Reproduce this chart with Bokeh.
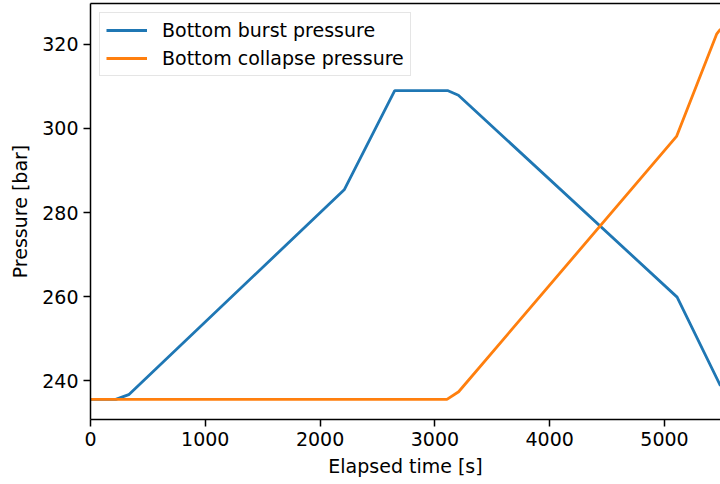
from bokeh.plotting import figure
from bokeh.models import Range1d, FixedTicker, LinearAxis, Legend, LegendItem
from bokeh.embed import file_html
from bokeh.resources import INLINE

# ---- data ----
time_burst = [0, 220, 333, 2210, 2650, 3110, 3205, 5110, 5488]
burst_pressure = [235.6, 235.6, 236.7, 285.4, 309.0, 309.0, 307.9, 259.9, 238.8]

time_collapse = [0, 3105, 3207, 5105, 5454, 5488]
collapse_pressure = [235.6, 235.6, 237.4, 298.1, 322.4, 323.6]

x_ticks = [0, 1000, 2000, 3000, 4000, 5000]
y_ticks = [240, 260, 280, 300, 320]

FONT = "DejaVu Sans"
FS = "19px"

p = figure(width=720, height=479, output_backend="svg", toolbar_location=None,
           x_range=Range1d(0, 5488), y_range=Range1d(230.8, 329.7),
           min_border_left=90, min_border_right=0, min_border_top=3, min_border_bottom=60)
p.outline_line_color = None
p.xgrid.visible = False
p.ygrid.visible = False
p.background_fill_color = "white"
p.border_fill_color = "white"

r1 = p.line(time_burst, burst_pressure, line_color="#1f77b4", line_width=2.8)
r2 = p.line(time_collapse, collapse_pressure, line_color="#ff7f0e", line_width=2.8)

for ax, ticks, label in ((p.xaxis[0], x_ticks, "Elapsed time [s]"), (p.yaxis[0], y_ticks, "Pressure [bar]")):
    ax.ticker = FixedTicker(ticks=ticks)
    ax.axis_label = label
    ax.axis_label_text_font = FONT
    ax.axis_label_text_font_size = FS
    ax.axis_label_text_font_style = "normal"
    ax.axis_label_text_color = "black"
    ax.major_label_text_font = FONT
    ax.major_label_text_font_size = FS
    ax.major_label_text_color = "black"
    ax.axis_line_color = "black"
    ax.axis_line_width = 1.5
    ax.major_tick_line_color = "black"
    ax.major_tick_line_width = 1.5
    ax.major_tick_in = 0
    ax.major_tick_out = 7
    ax.minor_tick_line_color = None
    ax.major_label_standoff = 5

p.xaxis[0].axis_label_standoff = 6
p.yaxis[0].axis_label_standoff = 8

top = LinearAxis(ticker=FixedTicker(ticks=[]), axis_line_color="black", axis_line_width=1.5,
                 major_tick_line_color=None, minor_tick_line_color=None,
                 major_tick_in=0, major_tick_out=0, major_label_standoff=0)
p.add_layout(top, "above")

legend = Legend(items=[LegendItem(label="Bottom burst pressure", renderers=[r1]),
                       LegendItem(label="Bottom collapse pressure", renderers=[r2])],
                location="top_left", margin=9, padding=6, spacing=6,
                label_text_font=FONT, label_text_font_size=FS, label_text_color="black",
                label_standoff=15, glyph_width=41, glyph_height=22, label_height=22,
                border_line_color="#cccccc", border_line_width=1.2,
                background_fill_color="white", background_fill_alpha=0.8)
p.add_layout(legend)

open("out.html", "w").write(file_html(p, INLINE))
